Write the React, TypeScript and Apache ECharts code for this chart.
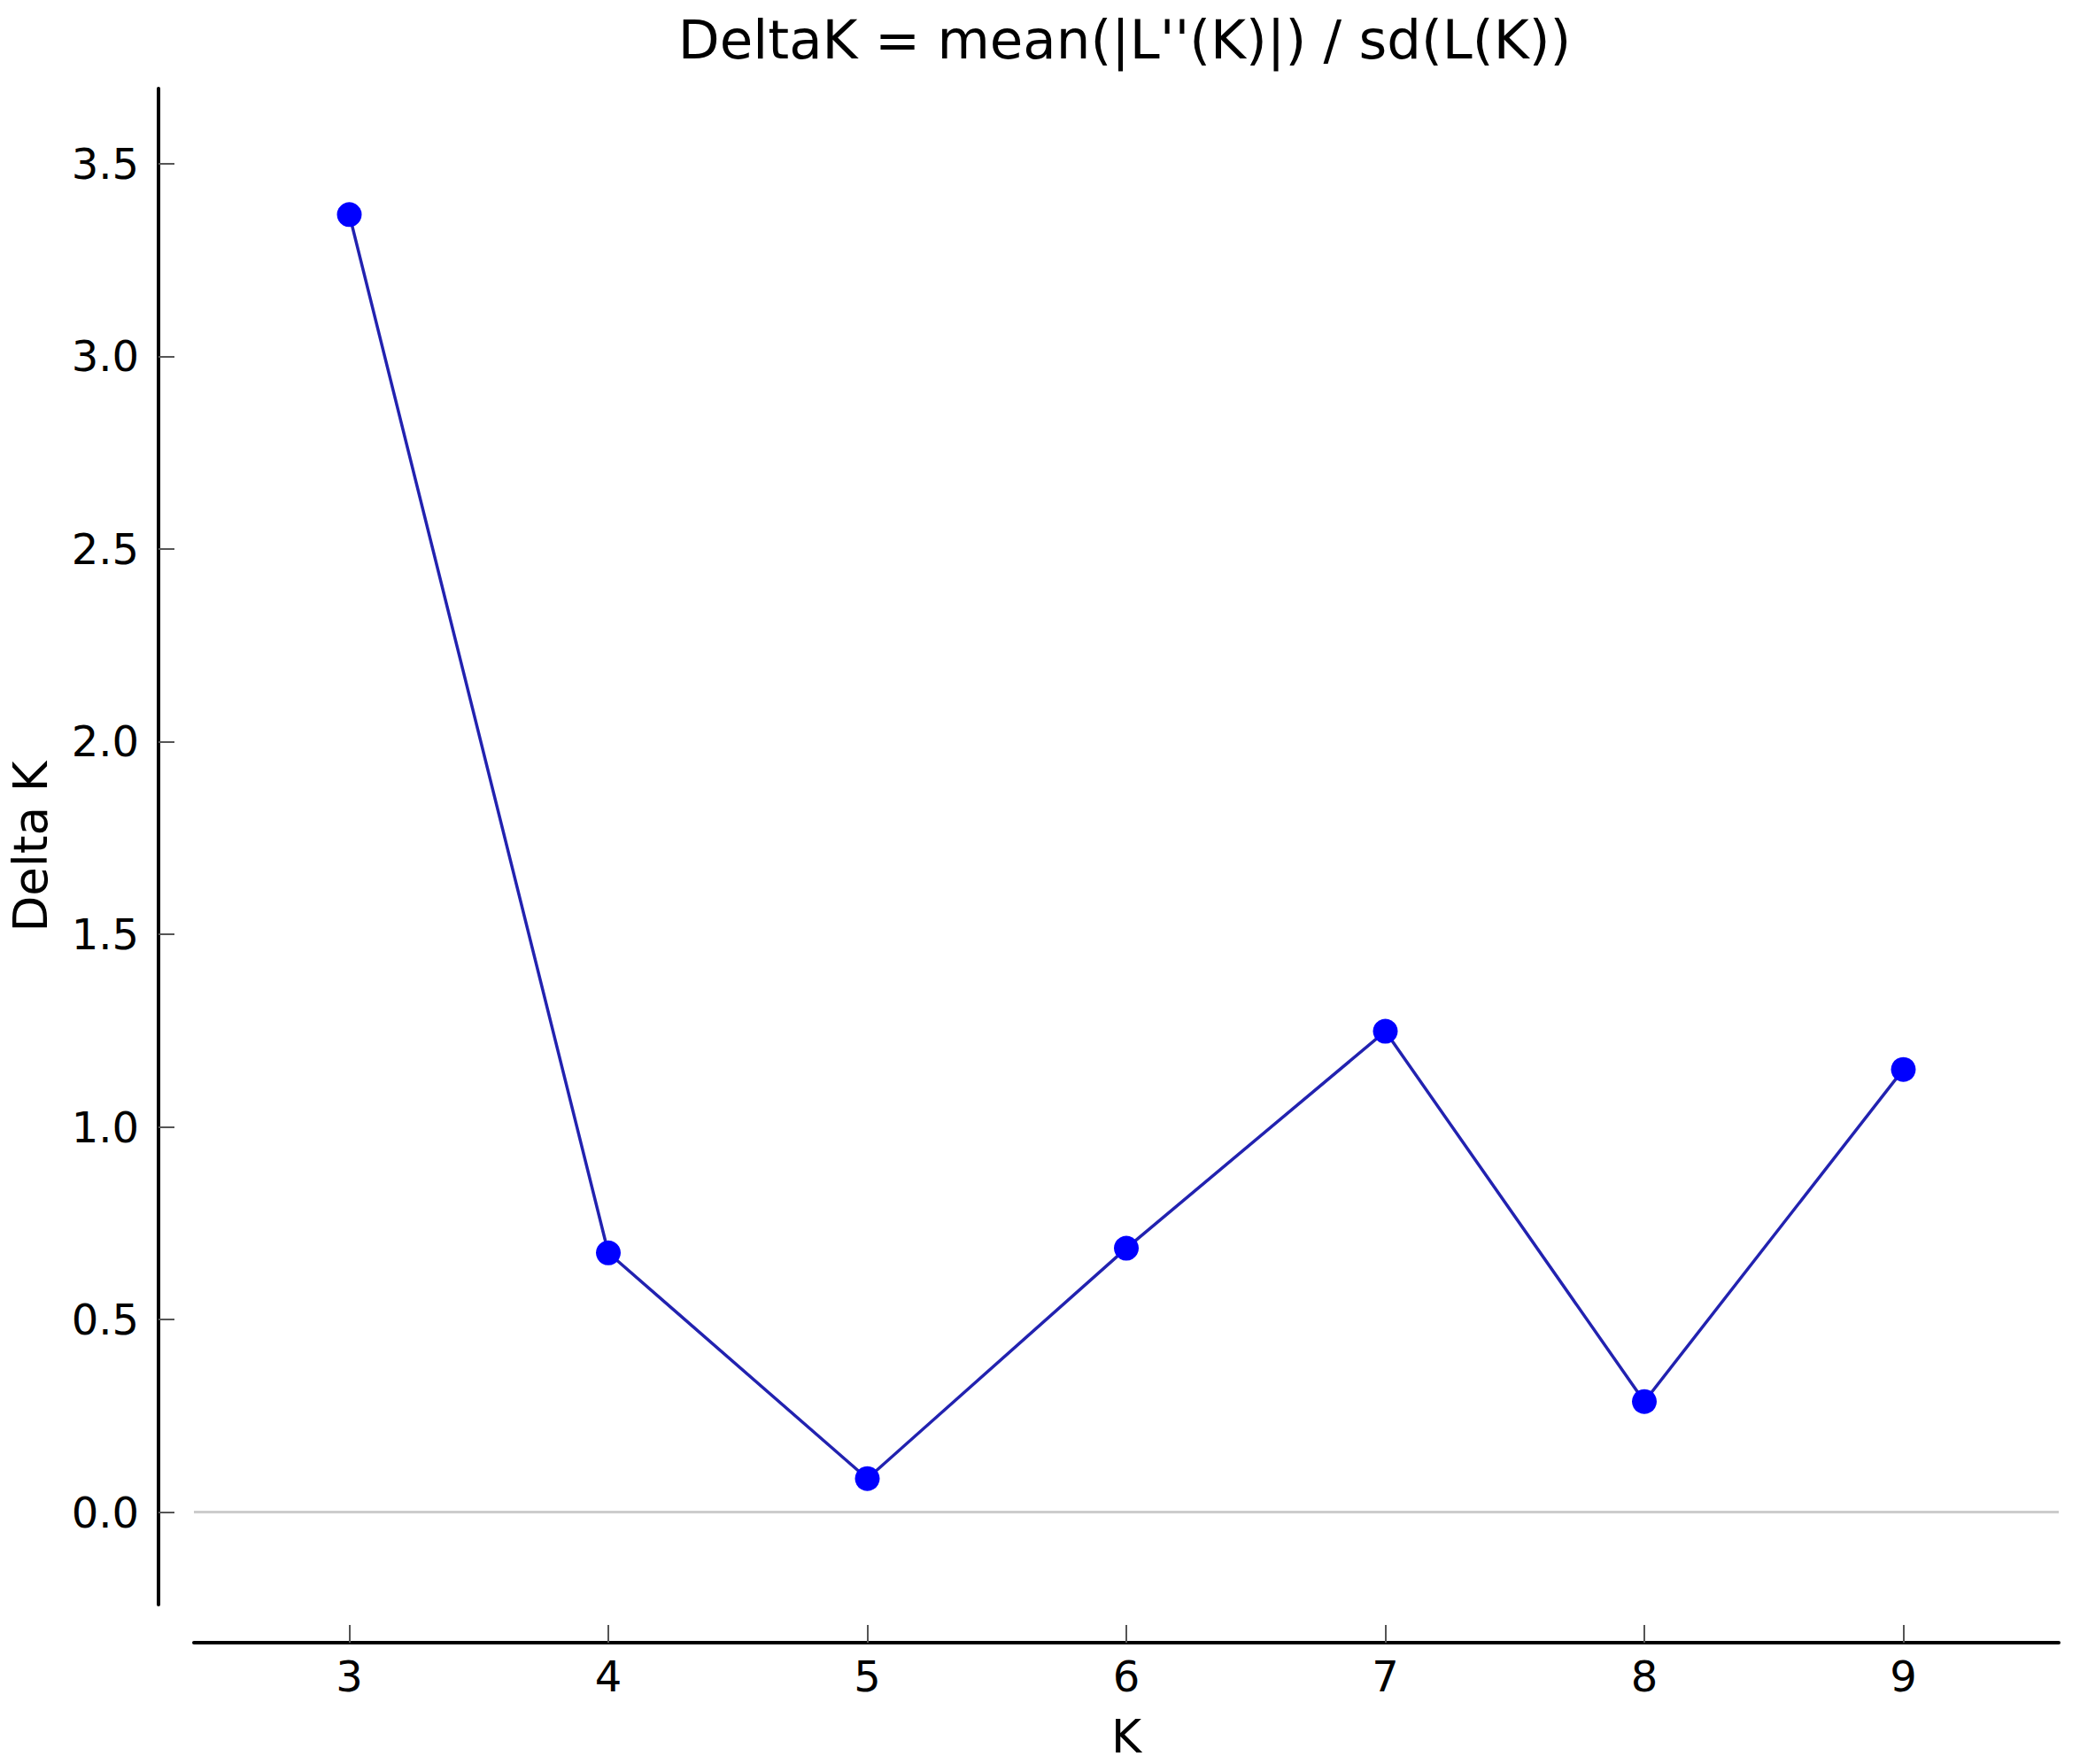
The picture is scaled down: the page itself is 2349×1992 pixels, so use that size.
import React, { useEffect, useRef } from "react";
import * as echarts from "echarts";

const kValues = [3, 4, 5, 6, 7, 8, 9];
const deltaK = [3.368, 0.673, 0.087, 0.685, 1.248, 0.287, 1.149];
const yTicks = [0, 0.5, 1, 1.5, 2, 2.5, 3, 3.5];
const xTicks = [3, 4, 5, 6, 7, 8, 9];
const titleText = "DeltaK = mean(|L''(K)|) / sd(L(K))";
const xName = "K";
const yName = "Delta K";

const FONT = "DejaVu Sans";

export default function App() {
  const ref = useRef<HTMLDivElement>(null);
  useEffect(() => {
    document.body.style.margin = "0";
    if (!ref.current) return;
    const chart = echarts.init(ref.current, null, { renderer: "svg" });
    chart.setOption({
      animation: false,
      backgroundColor: "#ffffff",
      grid: { left: 218, right: 24, top: 100, bottom: 179, containLabel: false },
      graphic: [
        {
          type: "text",
          x: 1270,
          y: 44,
          style: {
            text: titleText,
            fontFamily: FONT,
            fontSize: 61,
            fill: "#000",
            textAlign: "center",
            textVerticalAlign: "middle",
          },
        },
      ],
      xAxis: {
        type: "value",
        min: 2.4,
        max: 9.6,
        offset: 43,
        name: xName,
        nameLocation: "middle",
        nameGap: 80,
        nameTextStyle: { fontFamily: FONT, fontSize: 52, color: "#000" },
        axisLine: { show: true, onZero: false, lineStyle: { color: "#000", width: 4 } },
        axisTick: {
          show: true,
          inside: true,
          length: 20,
          customValues: xTicks,
          lineStyle: { color: "#555", width: 2 },
        },
        axisLabel: {
          customValues: xTicks,
          fontFamily: FONT,
          fontSize: 48,
          color: "#000",
          margin: 14,
        },
        splitLine: { show: false },
      },
      yAxis: {
        type: "value",
        min: -0.24,
        max: 3.695,
        offset: 40,
        name: yName,
        nameLocation: "middle",
        nameGap: 118,
        nameTextStyle: { fontFamily: FONT, fontSize: 53, color: "#000" },
        axisLine: { show: true, onZero: false, lineStyle: { color: "#000", width: 4 } },
        axisTick: {
          show: true,
          inside: true,
          length: 18,
          customValues: yTicks,
          lineStyle: { color: "#555", width: 2 },
        },
        axisLabel: {
          customValues: yTicks,
          fontFamily: FONT,
          fontSize: 48,
          color: "#000",
          margin: 22,
          formatter: (v: number) => v.toFixed(1),
        },
        splitLine: { show: false },
      },
      series: [
        {
          type: "line",
          data: kValues.map((k, i) => [k, deltaK[i]]),
          symbol: "circle",
          symbolSize: 28,
          itemStyle: { color: "#0000ff" },
          lineStyle: { color: "#2222b0", width: 3.5 },
          z: 3,
          markLine: {
            silent: true,
            symbol: "none",
            label: { show: false },
            lineStyle: { color: "#cccccc", width: 3, type: "solid" },
            data: [{ yAxis: 0 }],
            z: 1,
          },
        },
      ],
    });
    return () => chart.dispose();
  }, []);
  return <div ref={ref} style={{ width: 2349, height: 1992 }} />;
}
